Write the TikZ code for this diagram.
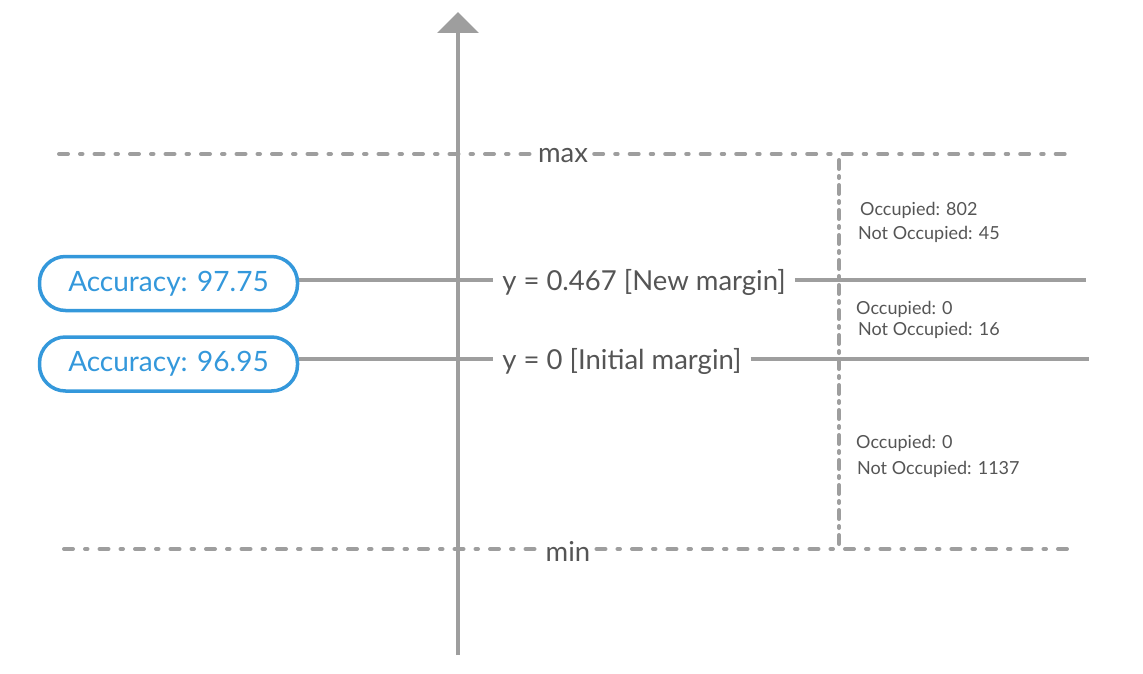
\documentclass[tikz,border=0pt]{standalone}
\usepackage{fontspec}
\setmainfont{Lato}
\usetikzlibrary{arrows.meta}
\definecolor{linegray}{HTML}{9E9E9E}
\definecolor{textgray}{HTML}{555555}
\definecolor{accblue}{HTML}{3498DB}
\begin{document}
\begin{tikzpicture}[x=1pt,y=-1pt,
  ln/.style={draw=linegray,line width=3.5pt},
  dashdot/.style={draw=linegray,line width=4pt,line cap=round,dash pattern=on 9pt off 12pt on 2.5pt off 12pt},
  vdash/.style={draw=linegray,line width=4pt,line cap=round,dash pattern=on 9pt off 7pt on 2pt off 7pt},
  lab/.style={text=textgray,font=\fontsize{27.5}{32}\selectfont,inner sep=6pt},
  small/.style={text=textgray,font=\fontsize{18}{21}\selectfont,anchor=west,inner sep=0pt},
  acc/.style={draw=accblue,line width=3.5pt,rounded corners=26pt,minimum width=258pt,minimum height=54pt,text=accblue,font=\fontsize{28}{32}\selectfont}
]
\useasboundingbox (0,0) rectangle (1143,674);
% axis
\coordinate (axbot) at (458,655);
\coordinate (axtop) at (458,12);
\draw[ln,-{Triangle[width=41pt,length=21pt]},color=linegray] (axbot) -- (axtop);
% max / min
\coordinate (maxl) at (59,154);
\coordinate (maxr) at (1068,154);
\node[lab] (max) at (563,156) {max};
\draw[dashdot] (maxl) -- (max.west |- maxl);
\draw[dashdot] (max.east |- maxr) -- (maxr);
\coordinate (minl) at (64,549);
\coordinate (minr) at (1068,549);
\node[lab] (min) at (568,551) {min};
\draw[dashdot] (minl) -- (min.west |- minl);
\draw[dashdot] (min.east |- minr) -- (minr);
% boxes
\node[acc] (acc1) at (168.5,283.5) {\raisebox{-2.5pt}{Accuracy: 97.75}};
\node[acc] (acc2) at (168.5,364) {\raisebox{-2.5pt}{Accuracy: 96.95}};
% margins
\coordinate (newr) at (1086,280);
\node[lab,inner sep=9pt] (newm) at (644,282.5) {y = 0.467 [New margin]};
\draw[ln] (acc1.east |- newr) -- (newm.west |- newr);
\draw[ln] (newm.east |- newr) -- (newr);
\coordinate (initr) at (1089,359);
\node[lab,inner sep=9pt] (initm) at (622,361.5) {y = 0 [Initial margin]};
\draw[ln] (acc2.east |- initr) -- (initm.west |- initr);
\draw[ln] (initm.east |- initr) -- (initr);
% vertical dashed
\coordinate (vtop) at (839,160);
\coordinate (vbot) at (839,547);
\draw[vdash] (vtop) -- (vbot);
% counts
\node[small] (o1) at (860,210) {Occupied: 802};
\node[small] (n1) at (858,234) {Not Occupied: 45};
\node[small] (o2) at (856,309) {Occupied: 0};
\node[small] (n2) at (858,330) {Not Occupied: 16};
\node[small] (o3) at (856,443) {Occupied: 0};
\node[small] (n3) at (857,469) {Not Occupied: 1137};
\end{tikzpicture}
\end{document}
